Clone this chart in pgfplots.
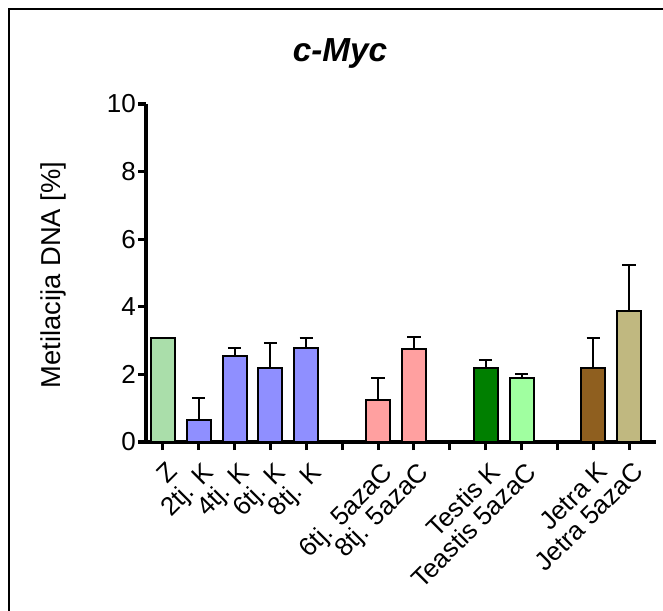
\documentclass[border=0pt]{standalone}
\usepackage{fontspec}
\setmainfont{Liberation Sans}
\usepackage{pgfplots}
\pgfplotsset{compat=1.18}
\definecolor{cZ}{RGB}{170,222,170}
\definecolor{cBlue}{RGB}{143,143,255}
\definecolor{cPink}{RGB}{255,160,160}
\definecolor{cDG}{RGB}{0,127,0}
\definecolor{cLG}{RGB}{160,255,160}
\definecolor{cBrown}{RGB}{143,95,31}
\definecolor{cKhaki}{RGB}{192,184,128}
\pgfplotsset{
  mybar/.style={ybar, bar shift=0pt, draw=black, line width=1.5pt,
    error bars/y dir=plus, error bars/y explicit,
    error bars/error bar style={line width=1.5pt, black},
    error bars/error mark options={rotate=90, mark size=5pt, line width=1.5pt, black}}
}
\begin{document}
\begin{tikzpicture}[x=0.75pt,y=0.75pt]
\useasboundingbox (0,0) rectangle (663,610);
\draw[line width=1.5pt] (9,-5) -- (9,601) -- (670,601);
\node[font=\fontsize{25}{30}\selectfont\bfseries\itshape] at (340,557) {c-Myc};
\node[rotate=90,font=\fontsize{20.5}{24}\selectfont] at (53,335) {Metilacija DNA [\%]};
\begin{axis}[
  at={(109.5pt,126pt)}, anchor=south west,
  scale only axis, width=382.5pt, height=253.5pt,
  xmin=-0.47, xmax=13.75, ymin=0, ymax=10,
  axis x line*=bottom, axis y line*=left,
  axis line style={line width=2.3pt, black},
  every tick/.style={line width=2.3pt, black},
  major tick length=6pt, tick align=outside,
  ytick={0,2,4,6,8,10},
  xtick={0,...,13},
  xticklabels={Z,{2tj. K},{4tj. K},{6tj. K},{8tj. K},,{6tj. 5azaC},{8tj. 5azaC},,{Testis K},{Teastis 5azaC},,{Jetra K},{Jetra 5azaC}},
  x tick label style={rotate=45, anchor=north east, inner sep=1pt, xshift=-3pt, yshift=-6pt, font=\fontsize{19.5}{22}\selectfont},
  y tick label style={font=\fontsize{19.5}{22}\selectfont, inner sep=1.5pt},
  /pgf/number format/assume math mode=true,
  bar width=18pt,
  clip=false,
]
\addplot[ybar, bar shift=0pt, draw=black, line width=1.5pt, fill=cZ] coordinates {(0,3.09)};
\addplot[mybar, fill=cBlue] table[x=x,y=y,y error=e] {
x y e
1 0.65 0.66
2 2.54 0.23
3 2.18 0.76
4 2.79 0.29
};
\addplot[mybar, fill=cPink] table[x=x,y=y,y error=e] {
x y e
6 1.24 0.65
7 2.75 0.36
};
\addplot[mybar, fill=cDG] table[x=x,y=y,y error=e] {
x y e
9 2.18 0.25
};
\addplot[mybar, fill=cLG] table[x=x,y=y,y error=e] {
x y e
10 1.90 0.11
};
\addplot[mybar, fill=cBrown] table[x=x,y=y,y error=e] {
x y e
12 2.18 0.89
};
\addplot[mybar, fill=cKhaki] table[x=x,y=y,y error=e] {
x y e
13 3.88 1.35
};
\end{axis}
\end{tikzpicture}
\end{document}
